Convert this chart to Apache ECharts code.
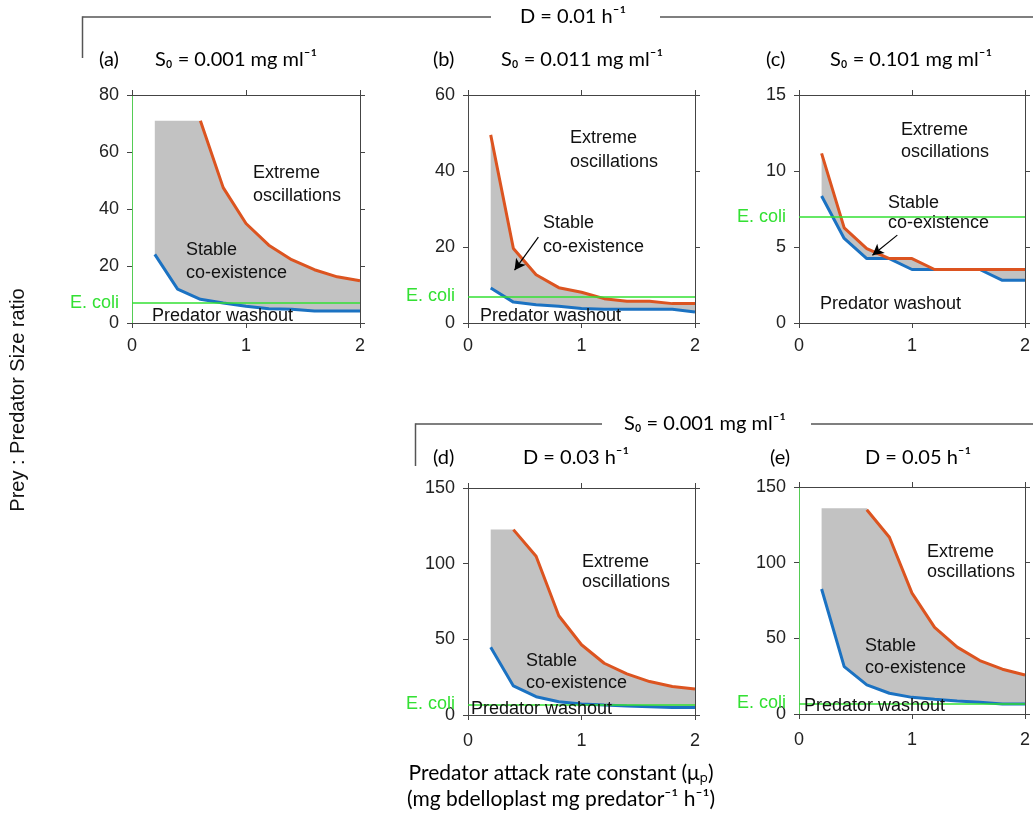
<!DOCTYPE html>
<html><head><meta charset="utf-8">
<script src="https://cdn.jsdelivr.net/npm/echarts@6/dist/echarts.min.js"></script>
<style>html,body{margin:0;padding:0;background:#fff}#c{width:1033px;height:839px}</style>
</head><body><div id="c"></div>
<script>
// x values: predator attack rate constant
const xVals = [0.2, 0.4, 0.6, 0.8, 1.0, 1.2, 1.4, 1.6, 1.8, 2.0];
const ecoliRatio = 7;

// (a) D=0.01, S0=0.001
const aWashout = [24.1, 11.9, 8.3, 7.0, 5.9, 5.0, 4.8, 4.2, 4.2, 4.2];
const aOscill  = [null, null, 71, 47.5, 34.9, 27.3, 22.2, 18.7, 16.2, 14.8];
const aStableTop = [71, 71, 71, 47.5, 34.9, 27.3, 22.2, 18.7, 16.2, 14.8];
// (b) D=0.01, S0=0.011
const bWashout = [9.2, 5.5, 4.8, 4.4, 3.8, 3.6, 3.6, 3.6, 3.6, 2.9];
const bOscill  = [49.5, 19.6, 12.7, 9.3, 8.1, 6.4, 5.7, 5.7, 5.1, 5.1];
const bStableTop = [49.5, 19.6, 12.7, 9.3, 8.1, 6.4, 5.7, 5.7, 5.1, 5.1];
// (c) D=0.01, S0=0.101
const cWashout = [8.35, 5.56, 4.24, 4.24, 3.52, 3.52, 3.52, 3.52, 2.81, 2.81];
const cOscill  = [11.16, 6.26, 4.9, 4.24, 4.24, 3.52, 3.52, 3.52, 3.52, 3.52];
const cStableTop = [11.16, 6.26, 4.9, 4.24, 4.24, 3.52, 3.52, 3.52, 3.52, 3.52];
// (d) S0=0.001, D=0.03
const dWashout = [44.8, 19.2, 12.1, 8.8, 7.3, 6.6, 6.0, 5.5, 4.9, 4.9];
const dOscill  = [null, 122.5, 104.9, 65.6, 46.4, 34.2, 27.2, 22.1, 18.8, 17.2];
const dStableTop = [122.5, 122.5, 104.9, 65.6, 46.4, 34.2, 27.2, 22.1, 18.8, 17.2];
// (e) S0=0.001, D=0.05
const eWashout = [82.6, 31.3, 19.2, 13.7, 11.0, 9.7, 8.6, 7.7, 6.6, 6.6];
const eOscill  = [null, null, 135, 116.8, 79.9, 57.2, 44.2, 35.3, 29.6, 25.8];
const eStableTop = [136, 136, 136, 116.8, 79.9, 57.2, 44.2, 35.3, 29.6, 25.8];

// axis settings
const yMaxes = [80, 60, 15, 150, 150];
const yIntervals = [20, 20, 5, 50, 50];
const xTicks = [0, 1, 2];

// annotation arrows (data coordinates): [fromX, fromY, toX, toY]
const bArrow = [0.62, 22.6, 0.41, 13.9];
const cArrow = [0.87, 5.78, 0.65, 4.46];

const panels = [
  {wash: aWashout, osc: aOscill, top: aStableTop, grid: {left: 132, top: 95, width: 228, height: 228}, leftColor: '#55cc55', xMargin: 14},
  {wash: bWashout, osc: bOscill, top: bStableTop, grid: {left: 468, top: 95, width: 227, height: 228}, leftColor: '#4a4a4a', xMargin: 14, arrow: bArrow},
  {wash: cWashout, osc: cOscill, top: cStableTop, grid: {left: 799, top: 95, width: 228, height: 228}, leftColor: '#4a4a4a', xMargin: 14, arrow: cArrow},
  {wash: dWashout, osc: dOscill, top: dStableTop, grid: {left: 468, top: 488, width: 227, height: 227}, leftColor: '#4a4a4a', xMargin: 17},
  {wash: eWashout, osc: eOscill, top: eStableTop, grid: {left: 799, top: 487, width: 227, height: 227}, leftColor: '#55cc55', xMargin: 17}
];

const AX = '#444';
const TXT = '#222';
const SANS = '"Liberation Sans", Arial, sans-serif';
const CAL = 'Lato, "Open Sans", sans-serif';
const GREEN = '#33e033';

const grids = [], xAxes = [], yAxes = [], series = [];
panels.forEach((p, i) => {
  grids.push(Object.assign({containLabel: false}, p.grid));
  xAxes.push({gridIndex: i, type: 'value', min: 0, max: 2, interval: 1, position: 'bottom',
    axisLine: {show: true, onZero: false, lineStyle: {color: AX, width: 1}},
    axisTick: {show: true, length: 5, lineStyle: {color: AX}},
    axisLabel: {show: true, margin: p.xMargin, fontFamily: SANS, fontSize: 18, color: TXT},
    splitLine: {show: false}});
  xAxes.push({gridIndex: i, type: 'value', min: 0, max: 2, interval: 1, position: 'top',
    axisLine: {show: true, onZero: false, lineStyle: {color: AX, width: 1}},
    axisTick: {show: true, length: 5, lineStyle: {color: AX}},
    axisLabel: {show: false}, splitLine: {show: false}});
  yAxes.push({gridIndex: i, type: 'value', min: 0, max: yMaxes[i], interval: yIntervals[i], position: 'left',
    axisLine: {show: true, onZero: false, lineStyle: {color: p.leftColor, width: 1}},
    axisTick: {show: true, length: 5, lineStyle: {color: AX}},
    axisLabel: {show: true, margin: 13, fontFamily: SANS, fontSize: 18, color: TXT},
    splitLine: {show: false}});
  yAxes.push({gridIndex: i, type: 'value', min: 0, max: yMaxes[i], interval: yIntervals[i], position: 'right',
    axisLine: {show: true, onZero: false, lineStyle: {color: AX, width: 1}},
    axisTick: {show: true, length: 5, lineStyle: {color: AX}},
    axisLabel: {show: false}, splitLine: {show: false}});

  const xi = i * 2, yi = i * 2;
  const top = p.top, bot = p.wash;
  series.push({type: 'custom', xAxisIndex: xi, yAxisIndex: yi, z: 1, silent: true,
    data: [[1, 1]],
    renderItem: function (params, api) {
      const pts = [];
      for (let k = 0; k < xVals.length; k++) pts.push(api.coord([xVals[k], top[k]]));
      for (let k = xVals.length - 1; k >= 0; k--) pts.push(api.coord([xVals[k], bot[k]]));
      return {type: 'polygon', shape: {points: pts}, style: {fill: '#c2c2c2'}};
    }
  });
  series.push({type: 'line', xAxisIndex: xi, yAxisIndex: yi, z: 2, silent: true, data: [],
    markLine: {symbol: 'none', silent: true, animation: false,
      lineStyle: {color: GREEN, width: 1.6, type: 'solid'},
      label: {show: true, position: 'start', formatter: 'E. coli', color: GREEN, fontFamily: SANS, fontSize: 18, distance: 13},
      data: [{yAxis: ecoliRatio}]}
  });
  series.push({type: 'line', xAxisIndex: xi, yAxisIndex: yi, z: 3, silent: true, showSymbol: false,
    lineStyle: {color: '#1b72c2', width: 3}, itemStyle: {color: '#1b72c2'},
    data: xVals.map((x, k) => [x, p.wash[k]])});
  series.push({type: 'line', xAxisIndex: xi, yAxisIndex: yi, z: 4, silent: true, showSymbol: false,
    lineStyle: {color: '#dc5420', width: 3}, itemStyle: {color: '#dc5420'},
    data: xVals.map((x, k) => [x, p.osc[k]]).filter(d => d[1] !== null)});
  if (p.arrow) {
    const a = p.arrow;
    series.push({type: 'line', xAxisIndex: xi, yAxisIndex: yi, z: 5, silent: true, data: [],
      markLine: {silent: true, animation: false, symbol: ['none', 'arrow'], symbolSize: [9, 11],
        lineStyle: {color: '#000', width: 1.2, type: 'solid'}, label: {show: false},
        data: [[{coord: [a[0], a[1]]}, {coord: [a[2], a[3]]}]]}
    });
  }
});

function txt(x, y, s, opts) {
  return Object.assign({type: 'text', z: 10, silent: true,
    style: Object.assign({x: x, y: y, text: s, fill: '#111', font: '18px ' + SANS, textAlign: 'left', textVerticalAlign: 'middle'}, opts || {})});
}
function ln(x1, y1, x2, y2) {
  return {type: 'line', z: 10, silent: true, shape: {x1: x1, y1: y1, x2: x2, y2: y2}, style: {stroke: '#555', lineWidth: 1.5}};
}
const calFont = '20px ' + CAL;
const graphics = [
  ln(82.5, 17, 491, 17), ln(660, 17, 1033, 17), ln(82.5, 16.3, 82.5, 58),
  txt(573, 17, 'D = 0.01 h\u207B\u00B9', {font: calFont, textAlign: 'center', fill: '#000'}),
  ln(415.5, 424, 602, 424), ln(811, 424, 1033, 424), ln(415.5, 423.3, 415.5, 466),
  txt(705, 424, 'S\u2080 = 0.001 mg ml\u207B\u00B9', {font: calFont, textAlign: 'center', fill: '#000'}),
  txt(99, 60, '(a)', {font: calFont, fill: '#000'}),
  txt(155, 60, 'S\u2080 = 0.001 mg ml\u207B\u00B9', {font: calFont, fill: '#000'}),
  txt(433, 60, '(b)', {font: calFont, fill: '#000'}),
  txt(501, 60, 'S\u2080 = 0.011 mg ml\u207B\u00B9', {font: calFont, fill: '#000'}),
  txt(766, 60, '(c)', {font: calFont, fill: '#000'}),
  txt(830, 60, 'S\u2080 = 0.101 mg ml\u207B\u00B9', {font: calFont, fill: '#000'}),
  txt(433, 458, '(d)', {font: calFont, fill: '#000'}),
  txt(523, 458, 'D = 0.03 h\u207B\u00B9', {font: calFont, fill: '#000'}),
  txt(770, 458, '(e)', {font: calFont, fill: '#000'}),
  txt(865, 458, 'D = 0.05 h\u207B\u00B9', {font: calFont, fill: '#000'}),
  txt(253, 173, 'Extreme'), txt(253, 196, 'oscillations'),
  txt(186, 250, 'Stable'), txt(186, 273, 'co-existence'),
  txt(152, 316, 'Predator washout'),
  txt(570, 138, 'Extreme'), txt(570, 162, 'oscillations'),
  txt(543, 223, 'Stable'), txt(543, 247, 'co-existence'),
  txt(480, 316, 'Predator washout'),
  txt(901, 130, 'Extreme'), txt(901, 152, 'oscillations'),
  txt(888, 203, 'Stable'), txt(888, 223, 'co-existence'),
  txt(820, 304, 'Predator washout'),
  txt(582, 562, 'Extreme'), txt(582, 582, 'oscillations'),
  txt(526, 661, 'Stable'), txt(526, 683, 'co-existence'),
  txt(471, 709, 'Predator washout'),
  txt(927, 552, 'Extreme'), txt(927, 572, 'oscillations'),
  txt(865, 646, 'Stable'), txt(865, 668, 'co-existence'),
  txt(804, 706, 'Predator washout'),
  {type: 'text', z: 10, silent: true, x: 18, y: 400, rotation: Math.PI / 2,
    style: {x: 0, y: 0, text: 'Prey : Predator Size ratio', fill: '#111', font: '20px ' + SANS, textAlign: 'center', textVerticalAlign: 'middle'}},
  txt(561, 773, 'Predator attack rate constant (\u03BC\u209A)', {font: '21px ' + CAL, textAlign: 'center', fill: '#000'}),
  txt(561, 799, '(mg bdelloplast mg predator\u207B\u00B9 h\u207B\u00B9)', {font: '21px ' + CAL, textAlign: 'center', fill: '#000'})
];

const chart = echarts.init(document.getElementById('c'), null, {renderer: 'canvas'});
chart.setOption({
  animation: false,
  backgroundColor: '#fff',
  grid: grids, xAxis: xAxes, yAxis: yAxes, series: series, graphic: graphics
});
</script></body></html>
